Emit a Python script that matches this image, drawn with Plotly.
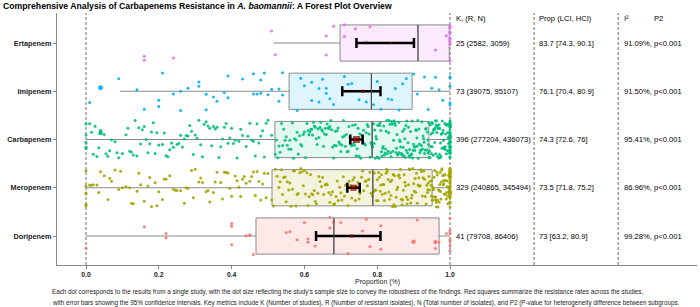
import numpy as np
import plotly.graph_objects as go

# ---------------- data (bottom -> top) ----------------
DRUGS = ["Doripenem", "Meropenem", "Carbapenem", "Imipenem", "Ertapenem"]
COLORS = ["#F8766D", "#A3A500", "#00BF7D", "#00B0F6", "#E76BF3"]
FILLS = ["rgba(248,118,109,0.16)", "rgba(163,165,0,0.13)", "rgba(0,191,125,0.11)",
         "rgba(0,176,246,0.13)", "rgba(231,107,243,0.15)"]

K = [41, 329, 396, 73, 25]
R = [79708, 240865, 277204, 39075, 2582]
N = [86406, 345494, 436073, 95107, 3059]
PROP = [73, 73.5, 74.3, 76.1, 83.7]
LCI = [63.2, 71.8, 72.6, 70.4, 74.3]
HCI = [80.9, 75.2, 76, 80.9, 90.1]
I2 = [99.28, 86.96, 95.41, 91.50, 91.09]
P2 = ["p<0.001", "p<0.001", "p<0.001", "p<0.001", "p<0.001"]

BOX_LOW = [0.0, 0.0, 0.0, 0.093, 0.515]
BOX_Q1 = [0.467, 0.511, 0.519, 0.558, 0.698]
BOX_MED = [0.681, 0.788, 0.786, 0.784, 0.912]
BOX_Q3 = [0.970, 0.951, 0.942, 0.896, 0.998]
BOX_HIGH = [1.0, 1.0, 1.0, 1.0, 1.0]

X_TICKS = [0, 0.2, 0.4, 0.6, 0.8, 1.0]
X_TICK_LABELS = ["0.0", "0.2", "0.4", "0.6", "0.8", "1.0"]

# study-level proportions (%)
doripenem_pct = [0, 16, 22, 22, 40, 40, 40, 44, 45, 45, 46, 55, 56, 58, 60, 61, 61, 63,
                 67, 67, 68, 70, 72, 76, 77, 78, 81, 81, 91, 96, 97, 99,
                 100, 100, 100, 100, 100, 100, 100]
doripenem_big_pct = [90, 96]
doripenem_big_n = [14000, 10000]

meropenem_pct = [
    0, 0, 0, 0, 0, 0, 1, 1.5, 2, 3, 3.5, 4, 5, 6, 6.5, 7, 8, 9, 9.5, 10,
    11, 12, 12.5, 13, 14, 14.5, 15, 16, 17, 17.5, 18, 19, 19.5, 20,
    21, 21.5, 22, 23, 24, 24.5, 25, 26, 27, 27.5, 28, 29, 29.5, 30,
    31, 31.5, 32, 33, 33.5, 34, 35, 35.5, 36, 37, 37.5, 38, 38.5, 39, 39.5, 40,
    41, 41.5, 42, 42.5, 43, 43.5, 44, 45, 45.5, 46, 46.5, 47, 47.5, 48, 48.5, 49, 49.5, 50,
    51, 51.5, 52, 52.5,
    53, 53.3, 53.7, 54, 54.3, 54.7, 55, 55.3, 55.7, 56, 56.3, 56.7, 57, 57.3, 57.7,
    58, 58.3, 58.7, 59, 59.3, 59.7, 60, 60.3, 60.7, 61, 61.3, 61.7, 62, 62.3, 62.7,
    63, 63.3, 63.7, 64, 64.3, 64.7, 65, 65.3, 65.7, 66, 66.3, 66.7, 67, 67.3, 67.7,
    68, 68.3, 68.7, 69, 69.3, 69.7, 70, 70.3, 70.7, 71, 71.3, 71.7, 72, 72.3, 72.7,
    73, 73.3, 73.7, 74, 74.3, 74.7, 75, 75.3, 75.7, 76, 76.3, 76.7, 77, 77.3, 77.7,
    78, 78.3, 78.7,
    79, 79.2, 79.4, 79.6, 79.8, 80, 80.2, 80.4, 80.6, 80.8, 81, 81.2, 81.4, 81.6, 81.8,
    82, 82.2, 82.4, 82.6, 82.8, 83, 83.2, 83.4, 83.6, 83.8, 84, 84.2, 84.4, 84.6, 84.8,
    85, 85.2, 85.4, 85.6, 85.8, 86, 86.2, 86.4, 86.6, 86.8, 87, 87.2, 87.4, 87.6, 87.8,
    88, 88.2, 88.4, 88.6, 88.8, 89, 89.2, 89.4, 89.6, 89.8, 90, 90.2, 90.4, 90.6, 90.8,
    91, 91.2, 91.4, 91.6, 91.8, 92, 92.2, 92.4, 92.6, 92.8, 93, 93.2, 93.4, 93.6, 93.8,
    94, 94.2, 94.4, 94.6, 94.8, 93.9, 94.9,
    95, 95.1, 95.2, 95.3, 95.4, 95.5, 95.6, 95.7, 95.8,
    96, 96.1, 96.2, 96.3, 96.4, 96.5, 96.6, 96.7, 96.8,
    97, 97.1, 97.2, 97.3, 97.4, 97.5, 97.6, 97.7, 97.8,
    98, 98.1, 98.2, 98.3, 98.4, 98.5, 98.6, 98.7, 98.8,
    99, 99.1, 99.2, 99.3, 99.4, 99.5, 99.6, 99.7, 99.8,
    100, 100, 100, 100, 100, 100, 100, 100, 100, 100,
    100, 100, 100, 100, 100, 100, 100, 100, 100, 100,
    100, 100, 100, 100, 100, 100, 100, 100, 100, 100,
    100, 100, 100, 100, 100, 100, 100, 100,
]
meropenem_big_pct = []
meropenem_big_n = []

carbapenem_pct = [
    0, 0, 0, 0, 0, 1, 1.5, 2, 2.5, 3, 3.5, 4, 5, 5.5, 6, 6.5, 7, 8, 8.5, 9, 10,
    11, 11.5, 12, 12.5, 13, 13.5, 14, 14.5, 15, 15.5, 16, 16.5, 17, 17.5, 18, 18.5, 19, 19.5,
    20, 21, 21.5, 22, 22.5, 23, 23.5, 24, 25, 25.5, 26, 26.5, 27, 27.5, 28, 28.5, 29, 29.5,
    30, 30.5, 31, 31.5, 32, 32.5, 33, 33.5, 34, 34.5, 35, 35.5, 36, 36.5, 37, 37.5, 38, 38.5, 39, 39.5,
    40, 40.5, 41, 41.5, 42, 42.5, 43, 44, 44.5, 45, 45.5, 46, 46.5, 47, 47.5, 48, 48.5, 49, 49.5, 50, 51,
    52, 52.3, 52.7, 53, 53.3, 53.7, 54, 54.3, 54.7, 55, 55.3, 55.7, 56, 56.3, 56.7,
    57, 57.3, 57.7, 58, 58.3, 58.7, 59, 59.3, 59.7, 60, 60.3, 60.7,
    61, 61.25, 61.5, 61.75, 62, 62.25, 62.5, 62.75, 63, 63.25, 63.5, 63.75,
    64, 64.25, 64.5, 64.75, 65, 65.25, 65.5, 65.75, 66, 66.25, 66.5, 66.75,
    67, 67.25, 67.5, 67.75, 68, 68.25, 68.5, 68.75, 69, 69.25, 69.5, 69.75,
    70, 70.25, 70.5, 70.75, 71, 71.25, 71.5, 71.75, 72, 72.25, 72.5, 72.75,
    73, 73.25, 73.5, 73.75, 74, 74.25, 74.5, 74.75, 75, 75.25, 75.5, 75.75,
    76, 76.25, 76.5, 76.75, 77, 77.25, 77.5, 77.75, 78, 78.25, 78.5, 78.75,
    79, 79.15, 79.3, 79.5, 79.65, 79.8, 80, 80.15, 80.3, 80.5, 80.65, 80.8,
    81, 81.15, 81.3, 81.5, 81.65, 81.8, 82, 82.15, 82.3, 82.5, 82.65, 82.8,
    83, 83.15, 83.3, 83.5, 83.65, 83.8, 84, 84.15, 84.3, 84.5, 84.65, 84.8,
    85, 85.15, 85.3, 85.45, 85.6, 85.75, 85.9, 86, 86.15, 86.3, 86.45, 86.6, 86.75, 86.9,
    87, 87.15, 87.3, 87.45, 87.6, 87.75, 87.9, 88, 88.15, 88.3, 88.45, 88.6, 88.75, 88.9,
    89, 89.15, 89.3, 89.45, 89.6, 89.75, 89.9, 90, 90.15, 90.3, 90.45, 90.6, 90.75, 90.9,
    91, 91.15, 91.3, 91.45, 91.6, 91.75, 91.9, 92, 92.15, 92.3, 92.45, 92.6, 92.75, 92.9,
    93, 93.15, 93.3, 93.45, 93.6, 93.75, 93.9,
    94, 94.1, 94.2, 94.3, 94.4, 94.5, 94.6, 94.7, 94.8, 94.9,
    95, 95.1, 95.2, 95.3, 95.4, 95.5, 95.6, 95.7, 95.8, 95.9,
    96, 96.1, 96.2, 96.3, 96.4, 96.5, 96.6, 96.7, 96.8, 96.9,
    97, 97.1, 97.2, 97.3, 97.4, 97.5, 97.6, 97.7, 97.8, 97.9,
    98, 98.1, 98.2, 98.3, 98.4, 98.5, 98.6, 98.7, 98.8, 98.9,
    99, 99.1, 99.2, 99.3, 99.4, 99.5, 99.6, 99.7, 99.8,
    100, 100, 100, 100, 100, 100, 100, 100, 100, 100,
    100, 100, 100, 100, 100, 100, 100, 100, 100, 100,
    100, 100, 100, 100, 100, 100, 100, 100, 100, 100,
    100, 100, 100, 100, 100, 100, 100, 100, 100, 100,
]
carbapenem_big_pct = [4]
carbapenem_big_n = [16000]

imipenem_pct = [1, 9, 14, 16, 20, 20, 21, 24, 26, 26, 28, 31, 31, 33, 33, 35, 36, 38, 39, 39,
                43, 46, 46, 47, 48, 48, 49, 50, 51, 53, 53, 54, 54, 58, 59, 60, 62, 62, 64, 64,
                65, 66, 66, 67, 68, 71, 72, 73, 75, 77, 79, 80, 81, 83, 84, 85, 86, 87, 88,
                90, 91, 93, 94, 95, 96, 97, 98, 100, 100, 100, 100, 100]
imipenem_big_pct = [4]
imipenem_big_n = [20000]

ertapenem_pct = [16, 16, 24, 51, 52, 66, 66, 68, 71, 71, 74, 77, 78, 90, 96, 99,
                 100, 100, 100, 100, 100, 100, 100, 100, 100]
ertapenem_big_pct = []
ertapenem_big_n = []

STUDIES = [doripenem_pct, meropenem_pct, carbapenem_pct, imipenem_pct, ertapenem_pct]
BIG_PCT = [doripenem_big_pct, meropenem_big_pct, carbapenem_big_pct, imipenem_big_pct, ertapenem_big_pct]
BIG_N = [doripenem_big_n, meropenem_big_n, carbapenem_big_n, imipenem_big_n, ertapenem_big_n]

# ---------------- figure ----------------
FONT = "Liberation Sans, Arial, Helvetica, sans-serif"
pos = np.arange(1, len(DRUGS) + 1)
BOX_W = 0.75
fig = go.Figure()

# boxes
for i, d in enumerate(DRUGS):
    fig.add_trace(go.Box(
        orientation="h", y=[pos[i]], q1=[BOX_Q1[i]], median=[BOX_MED[i]], q3=[BOX_Q3[i]],
        lowerfence=[BOX_LOW[i]], upperfence=[BOX_HIGH[i]],
        fillcolor=FILLS[i], line=dict(color="#8a8a8a", width=1), width=BOX_W,
        whiskerwidth=0, boxpoints=False, showlegend=False, hoverinfo="skip"))


def jitter(n, phase):
    # deterministic hash-based vertical jitter (display only)
    idx = np.arange(n, dtype=float)
    h = np.sin(idx * 12.9898 + phase * 78.233) * 43758.5453
    return ((h - np.floor(h)) - 0.5) * 0.8


# jittered study points
for i, d in enumerate(DRUGS):
    vals = np.array(STUDIES[i], dtype=float) / 100.0
    fig.add_trace(go.Scatter(
        x=vals, y=pos[i] + jitter(len(vals), i + 1), mode="markers",
        showlegend=False, hoverinfo="skip",
        marker=dict(size=3, color=COLORS[i], opacity=0.9, line=dict(width=0))))
    if BIG_PCT[i]:
        bv = np.array(BIG_PCT[i], dtype=float) / 100.0
        bn = np.array(BIG_N[i], dtype=float)
        fig.add_trace(go.Scatter(
            x=bv, y=pos[i] + jitter(len(bv), i + 7) * 0.4, mode="markers",
            showlegend=False, hoverinfo="skip",
            marker=dict(size=2.5 + np.sqrt(bn) / 60.0, color=COLORS[i], opacity=0.95,
                        line=dict(width=0))))

# summary squares with CI
prop = np.array(PROP) / 100.0
lci = np.array(LCI) / 100.0
hci = np.array(HCI) / 100.0
sq_size = np.maximum(2.0, 0.0106 * np.sqrt(np.array(N, dtype=float)))
fig.add_trace(go.Scatter(
    x=prop, y=pos, mode="markers", showlegend=False, hoverinfo="skip",
    marker=dict(symbol="square", size=sq_size, color="#8B0000", line=dict(width=0)),
    error_x=dict(type="data", symmetric=False, array=hci - prop, arrayminus=prop - lci,
                 color="black", thickness=2.5, width=5)))

# darker median lines
for i in range(len(DRUGS)):
    fig.add_shape(type="line", xref="x", yref="y", x0=BOX_MED[i], x1=BOX_MED[i],
                  y0=pos[i] - BOX_W / 2, y1=pos[i] + BOX_W / 2,
                  line=dict(color="#4a4a4a", width=1.1), layer="above")

# dashed reference / separator lines
X0, X1 = -0.0797, 1.6786
COL_K, COL_P, COL_I, COL_P2 = 1.011, 1.239, 1.473, 1.555
for xv in [0.0, 1.0, 1.231, 1.462]:
    fig.add_shape(type="line", xref="x", yref="paper", x0=xv, x1=xv, y0=0, y1=1,
                  line=dict(color="#444444", width=0.8, dash="3px,2px"), layer="below")

ann = []
tf = dict(family=FONT, size=7.6, color="black")
HEAD_Y = 5.5
for txt, xv in [("K, (R, N)", COL_K), ("Prop (LCI, HCI)", COL_P), ("I²", COL_I), ("P2", COL_P2)]:
    ann.append(dict(x=xv, y=HEAD_Y, xref="x", yref="y", text=txt, showarrow=False,
                    xanchor="left", yanchor="middle", font=tf))
for i in range(len(DRUGS)):
    ann.append(dict(x=COL_K, y=pos[i], xref="x", yref="y", showarrow=False,
                    text=f"{K[i]} ({R[i]}, {N[i]})", xanchor="left", yanchor="middle", font=tf))
    ann.append(dict(x=COL_P, y=pos[i], xref="x", yref="y", showarrow=False,
                    text=f"{PROP[i]:g} [{LCI[i]:g}, {HCI[i]:g}]", xanchor="left",
                    yanchor="middle", font=tf))
    ann.append(dict(x=COL_I, y=pos[i], xref="x", yref="y", showarrow=False,
                    text=f"{I2[i]:.2f}%, {P2[i]}", xanchor="left", yanchor="middle", font=tf))

# axis title and caption
ann.append(dict(x=0.5, y=-0.0675, xref="paper", yref="paper", text="Proportion (%)",
                showarrow=False, xanchor="center", yanchor="middle",
                font=dict(family=FONT, size=7.0, color="#222222")))
CAPTION = [
    "Each dot corresponds to the results from a single study, with the dot size reflecting the study's sample size to convey the robustness of the findings. Red squares summarize the resistance rates across the studies,",
    "with error bars showing the 95% confidence intervals. Key metrics include K (Number of studies), R (Number of resistant isolates), N (Total number of isolates), and P2 (P-value for heterogeneity difference between subgroups.",
]
for j, line in enumerate(CAPTION):
    ann.append(dict(x=-0.0109, y=-0.109 - 0.0437 * j, xref="paper", yref="paper", text=line,
                    showarrow=False, xanchor="left", yanchor="middle",
                    font=dict(family=FONT, size=6.3, color="#222222")))

fig.update_layout(
    width=700, height=307, margin=dict(l=57, r=3, t=13, b=42),
    paper_bgcolor="white", plot_bgcolor="white",
    title=dict(text="<b>Comprehensive Analysis of Carbapenems Resistance in <i>A. baomannii</i>: A Forest Plot Overview</b>",
               x=3 / 700, xanchor="left", y=1 - 6 / 307, yanchor="middle",
               font=dict(family=FONT, size=8.7, color="black")),
    xaxis=dict(range=[X0, X1], tickvals=X_TICKS, ticktext=X_TICK_LABELS, ticks="outside",
               ticklen=3, tickcolor="#888888", showline=True, linecolor="#888888", linewidth=1,
               showgrid=False, zeroline=False,
               tickfont=dict(family=FONT, size=6.8, color="#222222", weight="bold")),
    yaxis=dict(range=[0.399, 5.622], tickvals=list(pos), ticktext=DRUGS, ticks="outside",
               ticklen=3, tickcolor="#888888", showline=True, linecolor="#888888", linewidth=1,
               showgrid=False, zeroline=False,
               tickfont=dict(family=FONT, size=7.3, color="#222222", weight="bold")),
    annotations=ann,
)

fig.write_html("out.html", config={"displayModeBar": False},
               post_script="document.body.style.margin='0px';")
